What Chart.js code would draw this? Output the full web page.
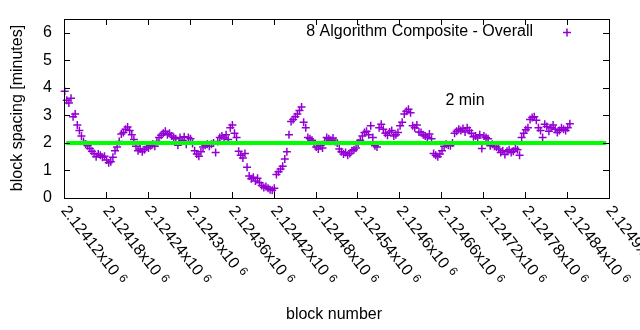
<!DOCTYPE html>
<html lang="en">
<head>
<meta charset="UTF-8" />
<title>Block spacing</title>
<script src="https://cdn.jsdelivr.net/npm/chart.js"></script>
<style>
  html, body { margin: 0; background: #fff; }
</style>
</head>
<body>
<canvas id="spacingChart" width="640" height="330"></canvas>
<script>
  // block spacing (minutes), one sample every 3 blocks starting at firstBlock
  const firstBlock = 2124121;
  const blockStep = 3;
  const spacingMinutes = [
    3.88, 3.55, 3.45, 3.62, 2.95, 3.05, 2.65, 2.45, 2.25, 2.05,
    1.95, 1.9, 1.8, 1.7, 1.62, 1.5, 1.6, 1.55, 1.48, 1.52,
    1.38, 1.28, 1.32, 1.48, 1.72, 1.85, 2.05, 2.32, 2.38, 2.5,
    2.58, 2.45, 2.3, 2.12, 1.88, 1.72, 1.78, 1.68, 1.75, 1.85,
    1.82, 1.9, 1.95, 1.88, 2.05, 2.2, 2.28, 2.35, 2.42, 2.3,
    2.35, 2.25, 2.2, 2.15, 1.92, 2.2, 2.1, 2.22, 1.95, 2.2,
    2.15, 1.98, 1.72, 1.6, 1.52, 1.68, 1.85, 1.92, 1.95, 1.88,
    1.95, 2.0, 1.65, 2.05, 2.2, 2.25, 2.18, 2.3, 2.12, 2.55,
    2.65, 2.35, 2.2, 1.7, 1.55, 1.45, 1.62, 1.12, 0.8, 0.7,
    0.75, 0.62, 0.72, 0.55, 0.45, 0.38, 0.42, 0.35, 0.3, 0.28,
    0.35, 0.85, 0.95, 1.05, 1.15, 1.42, 1.68, 2.3, 2.78, 2.85,
    2.95, 3.05, 3.18, 3.3, 2.75, 2.55, 2.2, 2.15, 2.1, 1.95,
    1.85, 1.78, 1.9, 1.82, 2.05, 2.2, 2.15, 2.1, 2.18, 2.05,
    2.0, 1.78, 1.68, 1.6, 1.65, 1.55, 1.62, 1.72, 1.75, 1.82,
    2.0, 2.1, 2.25, 2.38, 2.42, 2.3, 2.62, 2.2, 1.9, 1.85,
    2.55, 2.68, 2.5, 2.35, 2.28, 2.4, 2.45, 2.25, 2.3, 2.38,
    2.62, 2.75, 3.05, 3.15, 3.22, 3.1, 2.62, 2.55, 2.65, 2.4,
    2.38, 2.3, 2.25, 2.2, 2.32, 2.15, 1.62, 1.55, 1.5, 1.6,
    1.72, 1.88, 1.95, 1.92, 1.9, 2.0, 2.35, 2.42, 2.5, 2.45,
    2.52, 2.4, 2.55, 2.45, 2.35, 2.22, 2.25, 2.18, 2.3, 1.8,
    2.25, 2.2, 2.15, 1.9, 1.95, 1.88, 1.85, 1.78, 1.65, 1.72,
    1.58, 1.7, 1.75, 1.65, 1.7, 1.8, 1.75, 1.55, 2.2, 2.35,
    2.48, 2.55, 2.85, 2.92, 2.95, 2.82, 2.55, 2.45, 2.2, 2.68,
    2.6, 2.42, 2.55, 2.65, 2.5, 2.38, 2.45, 2.55, 2.5, 2.45,
    2.55, 2.7
  ];

  // 2 minute target line
  const targetMinutes = 2;
  const targetBlocks = [2124123, 2124896];

  const xTickValues = [2124120, 2124180, 2124240, 2124300, 2124360, 2124420, 2124480,
                       2124540, 2124600, 2124660, 2124720, 2124780, 2124840, 2124900];
  const xTickLabels = ['2.12412', '2.12418', '2.12424', '2.1243', '2.12436', '2.12442', '2.12448',
                       '2.12454', '2.1246', '2.12466', '2.12472', '2.12478', '2.12484', '2.1249'];
  const yTickValues = [0, 1, 2, 3, 4, 5, 6];

  const FONT = '"Liberation Sans", Arial, sans-serif';
  const PURPLE = '#9400d3';

  // gnuplot-style border, inward ticks, rotated labels and key
  const gnuplotFrame = {
    id: 'gnuplotFrame',
    afterDraw(chart) {
      const { ctx, chartArea: a, scales: { x, y } } = chart;
      const tick = 6;
      ctx.save();
      ctx.strokeStyle = '#000';
      ctx.lineWidth = 1;
      ctx.strokeRect(a.left + 0.5, a.top + 0.5, a.right - a.left, a.bottom - a.top);

      ctx.beginPath();
      yTickValues.forEach(v => {
        const py = Math.round(y.getPixelForValue(v)) + 0.5;
        ctx.moveTo(a.left, py); ctx.lineTo(a.left + tick, py);
        ctx.moveTo(a.right, py); ctx.lineTo(a.right - tick, py);
      });
      xTickValues.forEach(v => {
        const px = Math.round(x.getPixelForValue(v)) + 0.5;
        ctx.moveTo(px, a.bottom); ctx.lineTo(px, a.bottom - tick);
        ctx.moveTo(px, a.top); ctx.lineTo(px, a.top + tick);
      });
      ctx.stroke();

      ctx.fillStyle = '#000';
      ctx.font = '16px ' + FONT;
      ctx.textAlign = 'right';
      ctx.textBaseline = 'middle';
      yTickValues.forEach(v => ctx.fillText(String(v), 52, y.getPixelForValue(v)));

      xTickValues.forEach((v, i) => {
        const px = x.getPixelForValue(v);
        ctx.save();
        ctx.translate(px, 208);
        ctx.rotate(52 * Math.PI / 180);
        ctx.textAlign = 'left';
        ctx.textBaseline = 'middle';
        ctx.font = '16px ' + FONT;
        const base = xTickLabels[i] + 'x10';
        ctx.fillText(base, 0, 0);
        const w = ctx.measureText(base).width;
        ctx.font = '12px ' + FONT;
        ctx.fillText('6', w + 5, -3);
        ctx.restore();
      });

      // axis titles
      ctx.font = '16px ' + FONT;
      ctx.textAlign = 'center';
      ctx.textBaseline = 'middle';
      ctx.fillText('block number', 334, 315);
      ctx.save();
      ctx.translate(18, 108);
      ctx.rotate(-Math.PI / 2);
      ctx.fillText('block spacing [minutes]', 0, 0);
      ctx.restore();

      ctx.fillText('2 min', 465, 101);

      // key
      ctx.textAlign = 'right';
      ctx.fillText('8 Algorithm Composite - Overall', 533, 32);
      ctx.strokeStyle = PURPLE;
      ctx.lineWidth = 1.5;
      ctx.beginPath();
      ctx.moveTo(563, 32.5); ctx.lineTo(571, 32.5);
      ctx.moveTo(567, 28.5); ctx.lineTo(567, 36.5);
      ctx.stroke();
      ctx.restore();
    }
  };

  new Chart(document.getElementById('spacingChart'), {
    type: 'scatter',
    data: {
      datasets: [
        {
          type: 'line',
          label: '2 min',
          data: targetBlocks.map(b => ({ x: b, y: targetMinutes })),
          borderColor: '#00ff00',
          borderWidth: 4,
          pointRadius: 0,
          order: 0
        },
        {
          label: '8 Algorithm Composite - Overall',
          data: spacingMinutes.map((v, i) => ({ x: firstBlock + i * blockStep, y: v })),
          pointStyle: 'cross',
          pointRadius: 4,
          borderWidth: 1.5,
          borderColor: PURPLE,
          backgroundColor: PURPLE,
          clip: false,
          order: 1
        }
      ]
    },
    options: {
      responsive: false,
      animation: false,
      layout: { padding: { left: 64, right: 31, top: 19, bottom: 132 } },
      scales: {
        x: { type: 'linear', display: false, min: 2124120, max: 2124900 },
        y: { display: false, min: 0, max: 6.5 }
      },
      plugins: { legend: { display: false }, tooltip: { enabled: false } }
    },
    plugins: [gnuplotFrame]
  });
</script>
</body>
</html>
